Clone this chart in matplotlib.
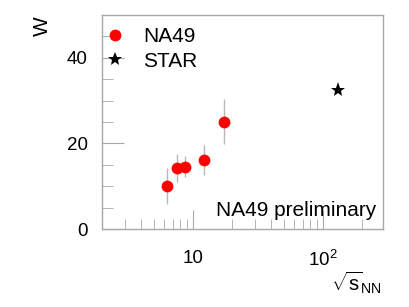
import matplotlib
matplotlib.use("Agg")
import matplotlib.pyplot as plt
from matplotlib.ticker import FixedLocator, FixedFormatter, MultipleLocator, NullFormatter
from matplotlib.lines import Line2D

plt.rcParams["font.family"] = ["Liberation Sans", "DejaVu Sans"]
plt.rcParams["mathtext.fontset"] = "custom"
plt.rcParams["mathtext.rm"] = "Liberation Sans"
plt.rcParams["mathtext.it"] = "Liberation Sans"

# NA49 points
na49_energy = [6.3, 7.6, 8.8, 12.3, 17.3]
na49_w = [10.0, 14.2, 14.6, 16.1, 25.1]
na49_err = [4.2, 3.3, 2.5, 3.5, 5.3]

# STAR point
star_energy = [130.0]
star_w = [32.5]

axis_grey = "#a8a8a8"

fig = plt.figure(figsize=(4.09, 3.07), dpi=100)
ax = fig.add_axes([0.249, 0.254, 0.687, 0.697])

ax.errorbar(na49_energy, na49_w, yerr=na49_err, fmt="none",
            ecolor="#b8b8b8", elinewidth=1, capsize=0, zorder=2)
ax.plot(na49_energy, na49_w, "o", color="red", markersize=8.5,
        markeredgewidth=0, zorder=3)
ax.plot(star_energy, star_w, "*", color="black", markersize=11,
        markeredgewidth=0, zorder=3)

ax.set_xscale("log")
ax.set_xlim(2, 290)
ax.set_ylim(0, 50)

for s in ax.spines.values():
    s.set_color(axis_grey)
    s.set_linewidth(1)

ax.xaxis.set_major_locator(FixedLocator([10, 100]))
ax.xaxis.set_major_formatter(FixedFormatter(["10", r"$10^{2}$"]))
minor_x = [2, 3, 4, 5, 6, 7, 8, 9, 20, 30, 40, 50, 60, 70, 80, 90, 200]
ax.xaxis.set_minor_locator(FixedLocator(minor_x))
ax.xaxis.set_minor_formatter(NullFormatter())

ax.yaxis.set_major_locator(FixedLocator([0, 20, 40]))
ax.yaxis.set_minor_locator(MultipleLocator(5))

ax.tick_params(axis="both", which="both", direction="in", color=axis_grey,
               top=False, right=False, labelsize=13.5)
ax.tick_params(axis="x", which="major", length=14, pad=15)
ax.tick_params(axis="x", which="minor", length=7)
ax.tick_params(axis="y", which="major", length=16, pad=10)
ax.tick_params(axis="y", which="minor", length=8)

fig.text(0.103, 0.915, "W", rotation=90, fontsize=15, ha="center", va="center")
fig.text(0.935, 0.08, r"$\sqrt{s}_{\mathrm{NN}}$", fontsize=14.5,
         ha="right", va="center")

ax.text(0.975, 0.085, "NA49 preliminary", transform=ax.transAxes,
        fontsize=15, ha="right", va="center")

handles = [
    Line2D([], [], marker="o", color="red", linestyle="none",
           markersize=8.5, markeredgewidth=0),
    Line2D([], [], marker="*", color="black", linestyle="none",
           markersize=10, markeredgewidth=0),
]
ax.legend(handles, ["NA49", "STAR"], loc="upper left",
          bbox_to_anchor=(0.011, 0.942), frameon=False, fontsize=15,
          handlelength=1.0, handletextpad=0.85, labelspacing=0.25,
          borderaxespad=0, borderpad=0)

fig.savefig("out.png", dpi=100)
